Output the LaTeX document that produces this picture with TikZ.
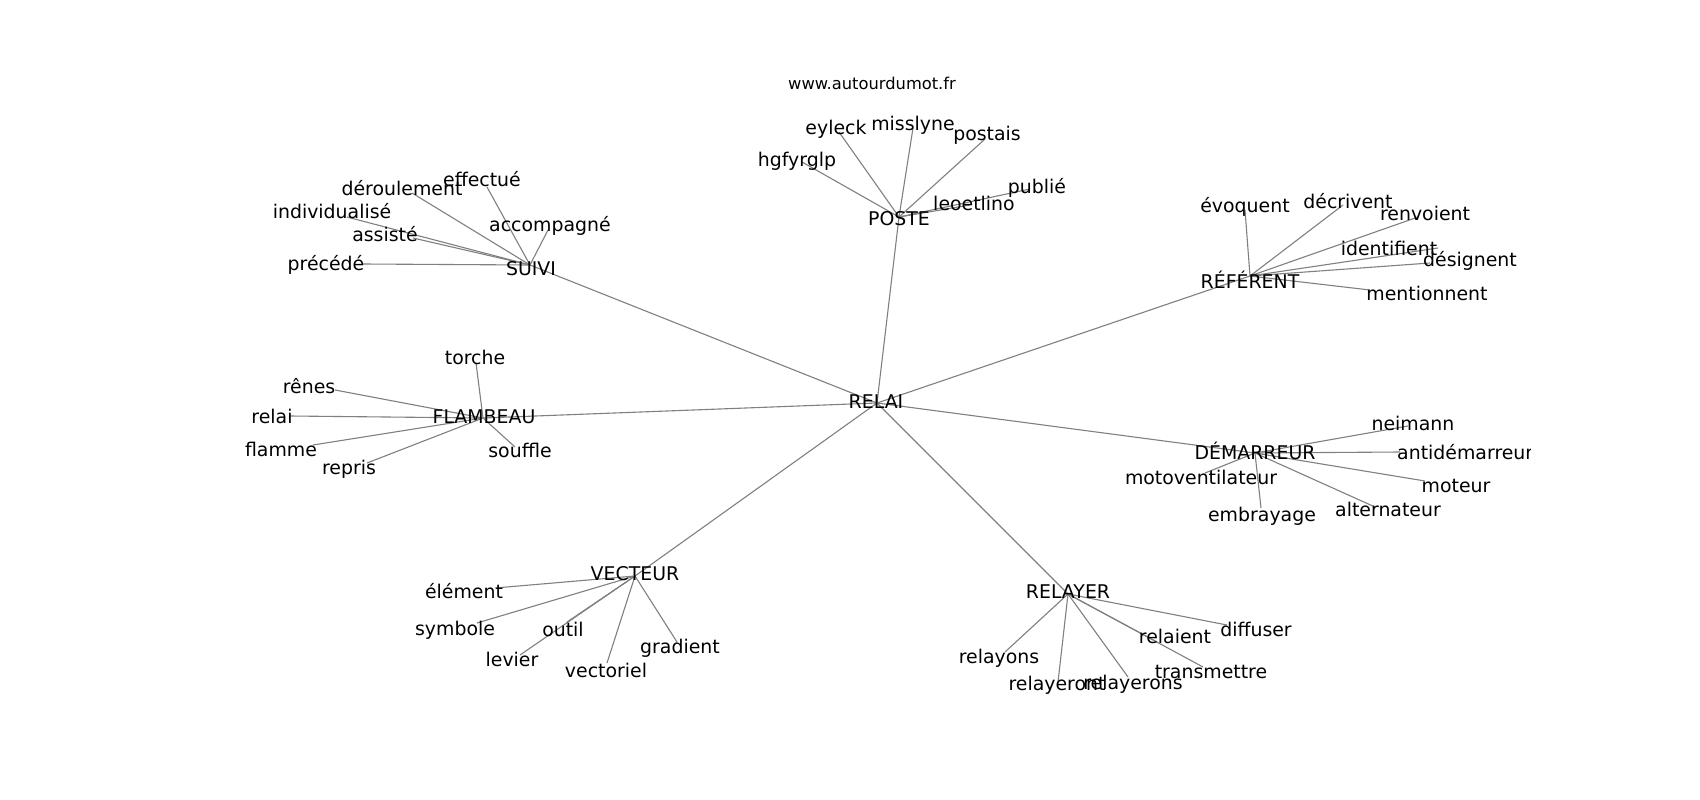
\documentclass[tikz,border=0pt]{standalone}
\usepackage{fontspec}
\setmainfont{DejaVu Sans}
\newcommand{\lblfont}{\fontsize{18.9}{22}\selectfont}
\newcommand{\urlfont}{\fontsize{16.3}{20}\selectfont}
\tikzset{
  lbl/.style={inner sep=0pt, anchor=base, yshift=-7pt, font=\lblfont, text=black},
  edge/.style={draw=black!50, line width=1.1pt},
}
\begin{document}
\begin{tikzpicture}[x=1pt,y=-1pt]
\useasboundingbox[fill=white] (0,0) rectangle (1700,800);
% vertices
\coordinate (v-relai) at (877,403);
\coordinate (v-poste) at (899,217);
\coordinate (v-suivi) at (530,265);
\coordinate (v-referent) at (1250,276);
\coordinate (v-flambeau) at (483,418);
\coordinate (v-demarreur) at (1255,453);
\coordinate (v-vecteur) at (635,576);
\coordinate (v-relayer) at (1068,594);
% SUIVI leaves
\coordinate (v-effectue) at (487,187);
\coordinate (v-deroulement) at (412,193);
\coordinate (v-individualise) at (347,217);
\coordinate (v-assiste) at (413,238);
\coordinate (v-accompagne) at (548,230);
\coordinate (v-precede) at (363,264);
% POSTE leaves
\coordinate (v-eyleck) at (839,132);
\coordinate (v-misslyne) at (913,128);
\coordinate (v-postais) at (985,139);
\coordinate (v-hgfyrglp) at (802,162);
\coordinate (v-publie) at (1030,189);
\coordinate (v-leoetlino) at (970,205);
% REFERENT leaves
\coordinate (v-evoquent) at (1245,210);
\coordinate (v-decrivent) at (1343,205);
\coordinate (v-renvoient) at (1418,217);
\coordinate (v-identifient) at (1438,248);
\coordinate (v-designent) at (1430,263);
\coordinate (v-mentionnent) at (1370,290);
% FLAMBEAU leaves
\coordinate (v-torche) at (476,363);
\coordinate (v-renes) at (335,390);
\coordinate (v-relai2) at (290,416);
\coordinate (v-flamme) at (313,445);
\coordinate (v-repris) at (367,463);
\coordinate (v-souffle) at (515,447);
% DEMARREUR leaves
\coordinate (v-neimann) at (1408,426);
\coordinate (v-antidemarreur) at (1400,452);
\coordinate (v-motoventilateur) at (1205,473);
\coordinate (v-embrayage) at (1261,508);
\coordinate (v-alternateur) at (1375,507);
\coordinate (v-moteur) at (1425,481);
% VECTEUR leaves
\coordinate (v-element) at (495,588);
\coordinate (v-symbole) at (477,623);
\coordinate (v-outil) at (567,622);
\coordinate (v-levier) at (520,655);
\coordinate (v-vectoriel) at (607,663);
\coordinate (v-gradient) at (677,642);
% RELAYER leaves
\coordinate (v-diffuser) at (1227,625);
\coordinate (v-relaient) at (1157,642);
\coordinate (v-transmettre) at (1203,667);
\coordinate (v-relayons) at (1005,652);
\coordinate (v-relayeront) at (1058,682);
\coordinate (v-relayerons) at (1128,677);

% edges
\foreach \h in {poste,suivi,referent,flambeau,demarreur,vecteur,relayer}
  \draw[edge] (v-relai) -- (v-\h);
\foreach \l in {effectue,deroulement,individualise,assiste,accompagne,precede}
  \draw[edge] (v-suivi) -- (v-\l);
\foreach \l in {eyleck,misslyne,postais,hgfyrglp,publie,leoetlino}
  \draw[edge] (v-poste) -- (v-\l);
\foreach \l in {evoquent,decrivent,renvoient,identifient,designent,mentionnent}
  \draw[edge] (v-referent) -- (v-\l);
\foreach \l in {torche,renes,relai2,flamme,repris,souffle}
  \draw[edge] (v-flambeau) -- (v-\l);
\foreach \l in {neimann,antidemarreur,motoventilateur,embrayage,alternateur,moteur}
  \draw[edge] (v-demarreur) -- (v-\l);
\foreach \l in {element,symbole,outil,levier,vectoriel,gradient}
  \draw[edge] (v-vecteur) -- (v-\l);
\foreach \l in {diffuser,relaient,transmettre,relayons,relayeront,relayerons}
  \draw[edge] (v-relayer) -- (v-\l);

% title
\node[inner sep=0pt, anchor=base, yshift=-6pt, font=\urlfont] (t-url) at (872,83) {www.autourdumot.fr};

% hub labels
\node[lbl] (t-relai) at (876,401) {RELAI};
\node[lbl] (t-poste) at (899,218) {POSTE};
\node[lbl] (t-suivi) at (531,268) {SUIVI};
\node[lbl] (t-referent) at (1250,281) {RÉFÉRENT};
\node[lbl] (t-flambeau) at (484,416) {FLAMBEAU};
\node[lbl] (t-demarreur) at (1255,452) {DÉMARREUR};
\node[lbl] (t-vecteur) at (635,573) {VECTEUR};
\node[lbl] (t-relayer) at (1068,591) {RELAYER};
% SUIVI
\node[lbl] (t-effectue) at (482,179) {effectué};
\node[lbl] (t-deroulement) at (402,188) {déroulement};
\node[lbl] (t-individualise) at (332,211) {individualisé};
\node[lbl] (t-assiste) at (385,234) {assisté};
\node[lbl] (t-accompagne) at (550,224) {accompagné};
\node[lbl] (t-precede) at (326,263) {précédé};
% POSTE
\node[lbl] (t-eyleck) at (836,127) {eyleck};
\node[lbl] (t-misslyne) at (913,123) {misslyne};
\node[lbl] (t-postais) at (987,133) {postais};
\node[lbl] (t-hgfyrglp) at (797,159) {hgfyrglp};
\node[lbl] (t-publie) at (1037,186) {publié};
\node[lbl] (t-leoetlino) at (974,203) {leoetlino};
% REFERENT
\node[lbl] (t-evoquent) at (1245,205) {évoquent};
\node[lbl] (t-decrivent) at (1348,201) {décrivent};
\node[lbl] (t-renvoient) at (1425,213) {renvoient};
\node[lbl] (t-identifient) at (1389,248) {identifient};
\node[lbl] (t-designent) at (1470,259) {désignent};
\node[lbl] (t-mentionnent) at (1427,293) {mentionnent};
% FLAMBEAU
\node[lbl] (t-torche) at (475,357) {torche};
\node[lbl] (t-renes) at (309,386) {rênes};
\node[lbl] (t-relai2) at (272,416) {relai};
\node[lbl] (t-flamme) at (281,449) {flamme};
\node[lbl] (t-repris) at (349,467) {repris};
\node[lbl] (t-souffle) at (520,450) {souffle};
% DEMARREUR
\node[lbl] (t-neimann) at (1413,423) {neimann};
\begin{scope}
\clip (0,0) rectangle (1530,800);
\node[lbl, anchor=base west] (t-antidemarreur) at (1397,452) {antidémarreur};
\end{scope}
\node[lbl] (t-motoventilateur) at (1201,477) {motoventilateur};
\node[lbl] (t-embrayage) at (1262,514) {embrayage};
\node[lbl] (t-alternateur) at (1388,509) {alternateur};
\node[lbl] (t-moteur) at (1456,485) {moteur};
% VECTEUR
\node[lbl] (t-element) at (464,591) {élément};
\node[lbl] (t-symbole) at (455,628) {symbole};
\node[lbl] (t-outil) at (563,629) {outil};
\node[lbl] (t-levier) at (512,659) {levier};
\node[lbl] (t-vectoriel) at (606,670) {vectoriel};
\node[lbl] (t-gradient) at (680,646) {gradient};
% RELAYER
\node[lbl] (t-diffuser) at (1256,629) {diffuser};
\node[lbl] (t-relaient) at (1175,636) {relaient};
\node[lbl] (t-transmettre) at (1211,671) {transmettre};
\node[lbl] (t-relayons) at (999,656) {relayons};
\node[lbl] (t-relayeront) at (1057,683) {relayeront};
\node[lbl] (t-relayerons) at (1133,682) {relayerons};
\end{tikzpicture}
\end{document}
